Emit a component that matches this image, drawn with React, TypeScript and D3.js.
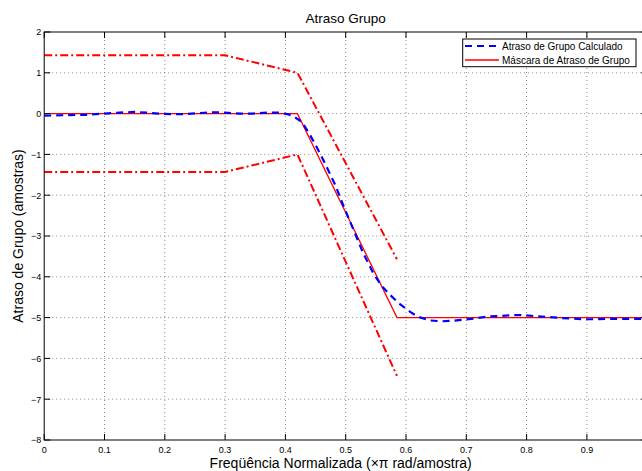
import React from "react";
import * as d3 from "d3";

// Group delay of the designed filter, sampled along normalized frequency
const delayFreq = [
  0, 0.03, 0.07, 0.1, 0.125, 0.15, 0.17, 0.19, 0.215, 0.235, 0.26, 0.285, 0.305,
  0.325, 0.345, 0.37, 0.39, 0.405, 0.415, 0.427, 0.438, 0.449, 0.466, 0.483,
  0.496, 0.513, 0.529, 0.546, 0.56, 0.574, 0.59, 0.607, 0.62, 0.64, 0.659,
  0.676, 0.696, 0.716, 0.736, 0.757, 0.777, 0.797, 0.817, 0.837, 0.857, 0.877,
  0.897, 0.918, 0.938, 0.958, 0.978, 1.0,
];
const delayValue = [
  -0.05, -0.04, -0.03, 0.0, 0.025, 0.04, 0.025, 0.0, -0.016, -0.01, 0.015,
  0.033, 0.016, 0.0, 0.0, 0.025, 0.025, -0.02, -0.08, -0.2, -0.45, -0.74,
  -1.23, -1.76, -2.25, -2.85, -3.42, -3.92, -4.23, -4.45, -4.67, -4.86, -4.98,
  -5.07, -5.09, -5.08, -5.05, -5.016, -4.975, -4.96, -4.94, -4.94, -4.97,
  -4.984, -5.01, -5.025, -5.04, -5.04, -5.03, -5.03, -5.03, -5.03,
];

// Target group-delay mask
const maskFreq = [0, 0.42, 0.585, 1];
const maskValue = [0, 0, -5, -5];

// Tolerance bounds around the mask
const boundFreq = [0, 0.3, 0.42, 0.585];
const upperBound = [1.43, 1.43, 1.0, -3.57];
const lowerBound = [-1.43, -1.43, -1.0, -6.43];

const xTicks = [0, 0.1, 0.2, 0.3, 0.4, 0.5, 0.6, 0.7, 0.8, 0.9, 1];
const xTickLabels = ["0", "0.1", "0.2", "0.3", "0.4", "0.5", "0.6", "0.7", "0.8", "0.9", ""];
const yTicks = [-8, -7, -6, -5, -4, -3, -2, -1, 0, 1, 2];

const W = 642;
const H = 471;
const left = 44.2;
const right = 647.2;
const top = 32;
const bottom = 440;

const FONT = "'Liberation Sans', Arial, Helvetica, sans-serif";

export default function App() {
  const x = d3.scaleLinear().domain([0, 1]).range([left, right]);
  const y = d3.scaleLinear().domain([-8, 2]).range([bottom, top]);

  const line = d3
    .line<[number, number]>()
    .x((d) => x(d[0]))
    .y((d) => y(d[1]));

  const zip = (a: number[], b: number[]) => a.map((v, i) => [v, b[i]] as [number, number]);

  const fmtY = (v: number) => (v < 0 ? "\u2212" + Math.abs(v) : String(v));

  return (
    <svg
      width={W}
      height={H}
      style={{ position: "absolute", left: 0, top: 0, background: "#fff" }}
      fontFamily={FONT}
    >
      <rect x={0} y={0} width={W} height={H} fill="#fff" />
      <defs>
        <clipPath id="plot-clip">
          <rect x={left} y={top} width={right - left} height={bottom - top} />
        </clipPath>
      </defs>

      {/* grid */}
      <g stroke="#888" strokeWidth={1} strokeDasharray="1,3">
        {xTicks.slice(1, -1).map((t) => (
          <line key={"gx" + t} x1={x(t)} x2={x(t)} y1={top} y2={bottom} />
        ))}
        {yTicks.slice(1, -1).map((t) => (
          <line key={"gy" + t} x1={left} x2={right} y1={y(t)} y2={y(t)} />
        ))}
      </g>

      {/* data */}
      <g clipPath="url(#plot-clip)" fill="none">
        <path
          d={line(zip(boundFreq, upperBound)) || ""}
          stroke="#ff0000"
          strokeWidth={2}
          strokeDasharray="8,3,2,3"
        />
        <path
          d={line(zip(boundFreq, lowerBound)) || ""}
          stroke="#ff0000"
          strokeWidth={2}
          strokeDasharray="8,3,2,3"
        />
        <path d={line(zip(maskFreq, maskValue)) || ""} stroke="#ff0000" strokeWidth={1.3} />
        <path
          d={line(zip(delayFreq, delayValue)) || ""}
          stroke="#0000ff"
          strokeWidth={2.2}
          strokeDasharray="7,5"
        />
      </g>

      {/* axes box and ticks */}
      <rect x={left} y={top} width={right - left} height={bottom - top} fill="none" stroke="#000" strokeWidth={1} />
      <g stroke="#000" strokeWidth={1}>
        {xTicks.map((t) => (
          <g key={"tx" + t}>
            <line x1={x(t)} x2={x(t)} y1={bottom} y2={bottom - 6} />
            <line x1={x(t)} x2={x(t)} y1={top} y2={top + 6} />
          </g>
        ))}
        {yTicks.map((t) => (
          <g key={"ty" + t}>
            <line x1={left} x2={left + 6} y1={y(t)} y2={y(t)} />
            <line x1={right} x2={right - 6} y1={y(t)} y2={y(t)} />
          </g>
        ))}
      </g>

      <g fontSize={9} fill="#000">
        {xTicks.map((t, i) =>
          xTickLabels[i] ? (
            <text key={"lx" + t} x={x(t)} y={bottom + 12.5} textAnchor="middle">
              {xTickLabels[i]}
            </text>
          ) : null
        )}
        {yTicks.map((t) => (
          <text key={"ly" + t} x={left - 3} y={y(t) + 3.3} textAnchor="end">
            {fmtY(t)}
          </text>
        ))}
      </g>

      {/* titles */}
      <text x={(left + right) / 2} y={23} textAnchor="middle" fontSize={13.5}>
        Atraso Grupo
      </text>
      <text x={(left + right) / 2 - 5} y={467.5} textAnchor="middle" fontSize={14}>
        Freqüência Normalizada (×π rad/amostra)
      </text>
      <text
        transform={`translate(23, ${(top + bottom) / 2}) rotate(-90)`}
        textAnchor="middle"
        fontSize={14}
      >
        Atraso de Grupo (amostras)
      </text>

      {/* legend */}
      <g>
        <rect x={462.7} y={39} width={173.3} height={27.7} fill="#fff" stroke="#000" strokeWidth={1} />
        <line x1={465} x2={499} y1={46} y2={46} stroke="#0000ff" strokeWidth={2.2} strokeDasharray="7,5" />
        <line x1={465} x2={499} y1={60} y2={60} stroke="#ff0000" strokeWidth={1.3} />
        <text x={502} y={49.5} fontSize={10}>
          Atraso de Grupo Calculado
        </text>
        <text x={502} y={63.5} fontSize={10}>
          Máscara de Atraso de Grupo
        </text>
      </g>
    </svg>
  );
}
